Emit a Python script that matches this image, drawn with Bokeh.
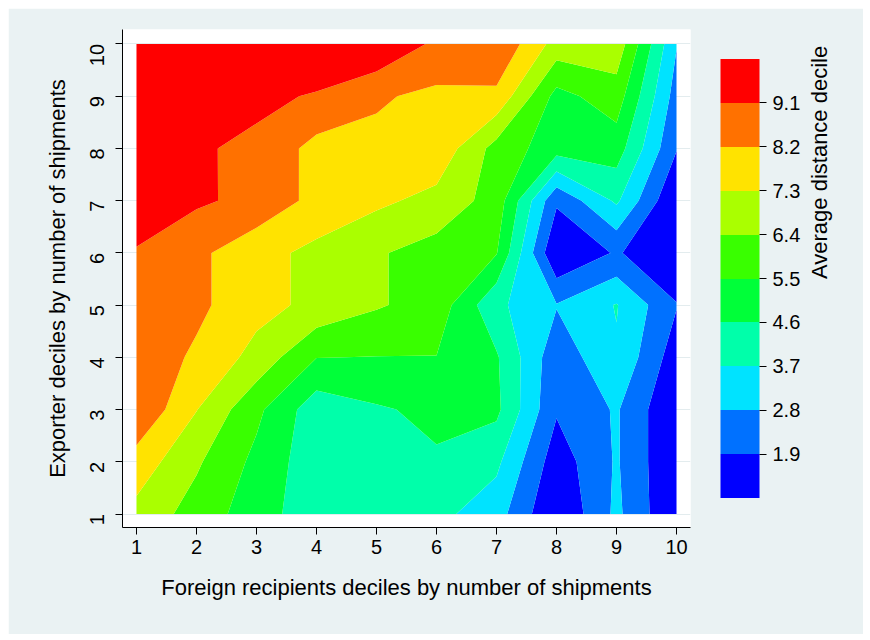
import math
import numpy as np
from bokeh.plotting import figure
from bokeh.models import ColorBar, LinearColorMapper, FixedTicker, LinearAxis
from bokeh.embed import file_html
from bokeh.resources import INLINE

# Grid axes
recipient_deciles = [1, 2, 3, 4, 5, 6, 7, 8, 9, 10]
exporter_deciles = [1, 2, 3, 4, 5, 6, 7, 8, 9, 10]

# Average distance decile, one list per exporter decile (values across recipient deciles 1..10)
exporter_1 = [7.02, 6.02, 5.02, 4.04, 4.00, 3.95, 3.19, 1.00, 3.00, 1.00]
exporter_2 = [7.83, 6.53, 5.27, 4.03, 4.20, 4.50, 3.90, 1.40, 2.90, 1.00]
exporter_3 = [9.00, 7.33, 5.71, 4.07, 4.50, 4.80, 4.80, 2.00, 2.90, 1.00]
exporter_4 = [8.80, 8.05, 7.00, 5.52, 5.48, 5.48, 4.70, 2.20, 3.60, 1.40]
exporter_5 = [8.80, 8.40, 7.60, 7.07, 6.49, 6.04, 3.90, 2.85, 3.75, 1.95]
exporter_6 = [8.98, 8.40, 7.60, 7.07, 6.49, 6.04, 5.55, 1.00, 2.00, 1.00]
exporter_7 = [10.0, 9.24, 8.85, 7.93, 7.49, 7.01, 6.03, 2.05, 3.85, 1.00]
exporter_8 = [10.0, 9.21, 8.90, 7.91, 8.00, 7.97, 6.06, 5.00, 5.05, 1.95]
exporter_9 = [10.0, 10.0, 9.32, 9.01, 8.30, 8.01, 8.00, 5.20, 5.97, 2.40]
exporter_10 = [10.0, 10.0, 10.0, 10.0, 10.0, 8.90, 9.00, 6.95, 7.00, 2.85]

# Contour cut points (legend ticks) and scale limits
cut_levels = [1.9, 2.8, 3.7, 4.6, 5.5, 6.4, 7.3, 8.2, 9.1]
scale_min, scale_max = 1.0, 10.0
palette = ["#0000FF", "#0071FF", "#00E3FF", "#00FFAA", "#00FF39",
           "#39FF00", "#AAFF00", "#FFE300", "#FF7100", "#FF0000"]
legend_title = "Average distance decile"

z = np.array([exporter_1, exporter_2, exporter_3, exporter_4, exporter_5,
              exporter_6, exporter_7, exporter_8, exporter_9, exporter_10])
x = np.array(recipient_deciles, dtype=float)
y = np.array(exporter_deciles, dtype=float)
fill_levels = [scale_min - 0.5] + cut_levels + [scale_max + 0.5]

FONT = "Liberation Sans"

p = figure(width=855, height=626,
           x_range=(0.767, 10.233), y_range=(0.7435, 10.2756),
           output_backend="svg", toolbar_location=None,
           min_border_left=114, min_border_right=173,
           min_border_top=21, min_border_bottom=107,
           background_fill_color="white", border_fill_color="#EAF2F3",
           outline_line_color=None)
p.margin = (8, 0, 0, 8)

cr = p.contour(x, y, z, levels=fill_levels, fill_color=palette, line_color=None)

for ax in (p.xaxis[0], p.yaxis[0]):
    ax.axis_line_color = "black"
    ax.axis_line_width = 1
    ax.major_tick_line_color = "black"
    ax.major_tick_out = 7
    ax.major_tick_in = 0
    ax.minor_tick_line_color = None
    ax.major_label_text_font = FONT
    ax.major_label_text_font_size = "20px"
    ax.major_label_text_color = "black"
    ax.axis_label_text_font = FONT
    ax.axis_label_text_font_size = "22px"
    ax.axis_label_text_font_style = "normal"
    ax.axis_label_text_color = "black"

p.xaxis.ticker = FixedTicker(ticks=recipient_deciles)
p.yaxis.ticker = FixedTicker(ticks=exporter_deciles)
p.xaxis.axis_label = "Foreign recipients deciles by number of shipments"
p.yaxis.axis_label = "Exporter deciles by number of shipments"
p.xaxis.major_label_standoff = 5
p.xaxis.axis_label_standoff = 18
p.yaxis.major_label_standoff = 18
p.yaxis.axis_label_standoff = 11
p.yaxis.major_label_orientation = math.pi / 2

p.xgrid.visible = False
p.ygrid.grid_line_color = "#E3ECEE"
p.ygrid.grid_line_width = 1

# spacer between plot region and colour bar (bare axis with one invisible tick)
spacer = LinearAxis(ticker=FixedTicker(ticks=[5.5]),
                    major_label_overrides={5.5: " "},
                    major_label_text_font_size="1px",
                    major_tick_out=27, major_tick_in=0,
                    axis_line_color=None, major_tick_line_color=None,
                    minor_tick_line_color=None, major_label_standoff=0)
p.add_layout(spacer, "right")

mapper = LinearColorMapper(palette=palette, low=scale_min, high=scale_max)
cb = ColorBar(color_mapper=mapper, ticker=FixedTicker(ticks=cut_levels),
              width=39, height=439, margin=0, padding=0, location="center_left",
              major_tick_out=7, major_tick_in=0, major_tick_line_color="black",
              minor_tick_line_color=None,
              major_label_text_font=FONT, major_label_text_font_size="20px",
              major_label_text_color="black", label_standoff=6,
              background_fill_color=None, bar_line_color=None,
              border_line_color=None)
p.add_layout(cb, "right")

# colour bar title, written as the single label of a bare right axis
title_axis = LinearAxis(ticker=FixedTicker(ticks=[5.5]),
                        major_label_overrides={5.5: legend_title},
                        major_label_orientation=math.pi / 2,
                        major_label_standoff=16, major_tick_out=0, major_tick_in=0,
                        axis_line_color=None, major_tick_line_color=None,
                        minor_tick_line_color=None,
                        major_label_text_font=FONT, major_label_text_font_size="22px",
                        major_label_text_color="black")
p.add_layout(title_axis, "right")

open("out.html", "w").write(file_html(p, INLINE))
